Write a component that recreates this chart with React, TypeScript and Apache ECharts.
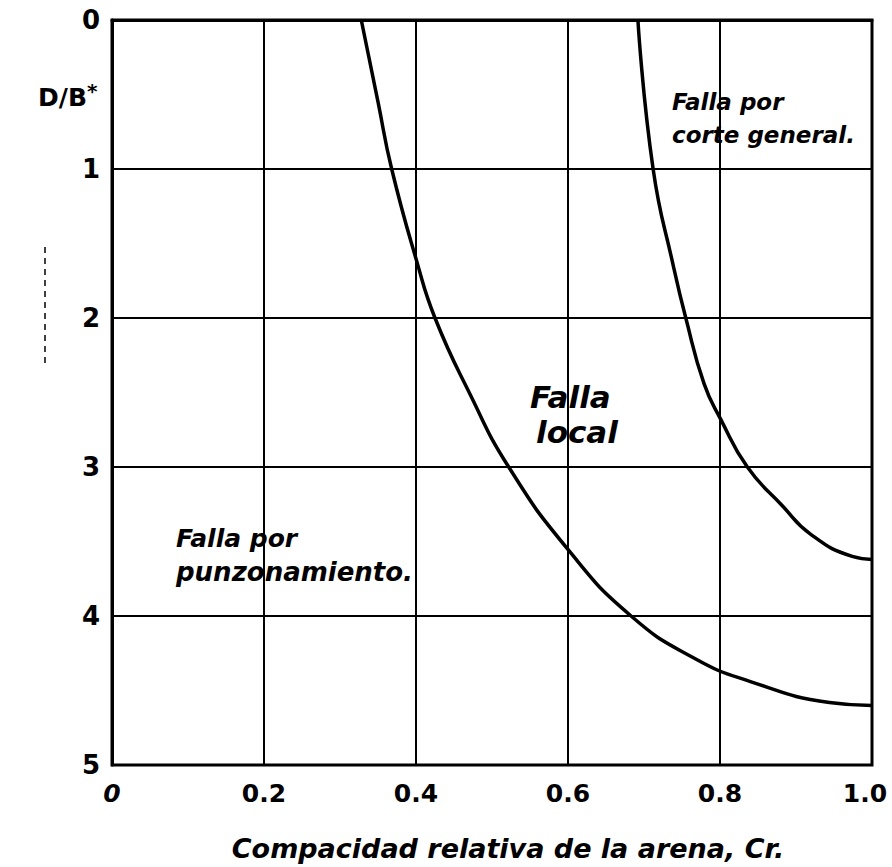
import React, { useEffect, useRef } from "react";
import * as echarts from "echarts";

// Boundary between punching failure and local failure (Cr, D/B*)
const localCr = [0.328, 0.35, 0.368, 0.401, 0.425, 0.47, 0.522, 0.601, 0.683, 0.765, 0.84, 0.944, 1.0];
const localDB = [0.0, 0.55, 1.0, 1.62, 2.0, 2.5, 3.0, 3.56, 4.0, 4.28, 4.44, 4.58, 4.6];

// Boundary between local failure and general shear failure (Cr, D/B*)
const generalCr = [0.692, 0.712, 0.739, 0.755, 0.779, 0.801, 0.836, 0.882, 0.919, 0.974, 1.0];
const generalDB = [0.0, 1.0, 1.66, 2.0, 2.44, 2.68, 3.0, 3.26, 3.45, 3.6, 3.62];

const xTicks = ["0", "0.2", "0.4", "0.6", "0.8", "1.0"];
const yTicks = ["0", "1", "2", "3", "4", "5"];

const xTitle = "Compacidad relativa de la arena, Cr.";
const yTitle = "D/B";
const regionLabels = [
  ["Falla por", "corte general."],
  ["Falla", "local"],
  ["Falla por", "punzonamiento."],
];

export default function App() {
  const ref = useRef<HTMLDivElement>(null);
  useEffect(() => {
    if (!ref.current) return;
    const chart = echarts.init(ref.current, undefined, { renderer: "svg" });
    const font = "'DejaVu Sans', sans-serif";
    const pair = (xs: number[], ys: number[]) => xs.map((x, i) => [x, ys[i]]);
    const lineSeries = (name: string, data: number[][]) => ({
      name,
      type: "line",
      data,
      smooth: 0.5,
      symbol: "none",
      clip: true,
      lineStyle: { color: "#000", width: 3.5 },
    });
    const italic = (x: number, y: number, text: string, size: number) => ({
      type: "text",
      x,
      y,
      style: {
        text,
        fill: "#000",
        font: `italic 600 ${size}px ${font}`,
        textVerticalAlign: "middle",
      },
    });
    chart.setOption({
      animation: false,
      backgroundColor: "#fff",
      grid: {
        left: 112,
        top: 20,
        width: 760,
        height: 756,
        show: true,
        borderColor: "#000",
        borderWidth: 3,
        containLabel: false,
      },
      xAxis: {
        type: "value",
        min: 0,
        max: 1,
        interval: 0.2,
        name: xTitle,
        nameLocation: "middle",
        nameGap: 70,
        nameTextStyle: {
          fontFamily: font,
          fontStyle: "italic",
          fontWeight: 600,
          fontSize: 27,
          color: "#000",
          padding: [0, 0, 0, 32],
        },
        axisLine: { show: true, lineStyle: { color: "#000", width: 3 } },
        axisTick: { show: false },
        axisLabel: {
          margin: 16,
          fontFamily: font,
          fontWeight: 600,
          fontSize: 25,
          color: "#000",
          formatter: (v: number) => {
            const i = Math.round(v / 0.2);
            const t = xTicks[i] ?? "";
            if (i === 0) return `{f|${t}}`;
            return i === xTicks.length - 1 ? `{e|${t}}` : t;
          },
          rich: {
            e: { fontFamily: font, fontWeight: 600, fontSize: 25, color: "#000", padding: [0, 14, 0, 0] },
            f: { fontFamily: font, fontWeight: 600, fontStyle: "italic", fontSize: 25, color: "#000" },
          },
        },
        splitLine: { show: true, lineStyle: { color: "#000", width: 2 } },
      },
      yAxis: {
        type: "value",
        inverse: true,
        min: 0,
        max: 5,
        interval: 1,
        axisLine: { show: true, lineStyle: { color: "#000", width: 3 } },
        axisTick: { show: false },
        axisLabel: {
          margin: 12,
          fontFamily: font,
          fontWeight: 600,
          fontSize: 26,
          color: "#000",
          formatter: (v: number) => yTicks[Math.round(v)] ?? "",
        },
        splitLine: { show: true, lineStyle: { color: "#000", width: 2 } },
      },
      series: [
        lineSeries("Falla local / punzonamiento", pair(localCr, localDB)),
        lineSeries("Falla por corte general", pair(generalCr, generalDB)),
      ],
      graphic: [
        {
          type: "text",
          x: 38,
          y: 97,
          style: {
            text: `{m|${yTitle}}{s|*}`,
            rich: {
              m: { font: `600 25px ${font}`, fill: "#000" },
              s: { font: `900 20px ${font}`, fill: "#000", verticalAlign: "top", padding: [0, 0, 12, 0] },
            },
            textVerticalAlign: "middle",
          },
        },
        italic(672, 102, regionLabels[0][0], 23),
        italic(672, 135, regionLabels[0][1], 23),
        italic(530, 397, regionLabels[1][0], 31),
        italic(536, 432, regionLabels[1][1], 31),
        italic(176, 538, regionLabels[2][0], 25),
        italic(176, 572, regionLabels[2][1], 26),
        {
          type: "line",
          shape: { x1: 45, y1: 247, x2: 45, y2: 367 },
          style: { stroke: "#000", lineWidth: 1.5, lineDash: [6, 5] },
        },
      ],
    });
    return () => chart.dispose();
  }, []);
  return (
    <div
      ref={ref}
      style={{ position: "absolute", left: 0, top: 0, width: 892, height: 867, background: "#fff" }}
    />
  );
}
